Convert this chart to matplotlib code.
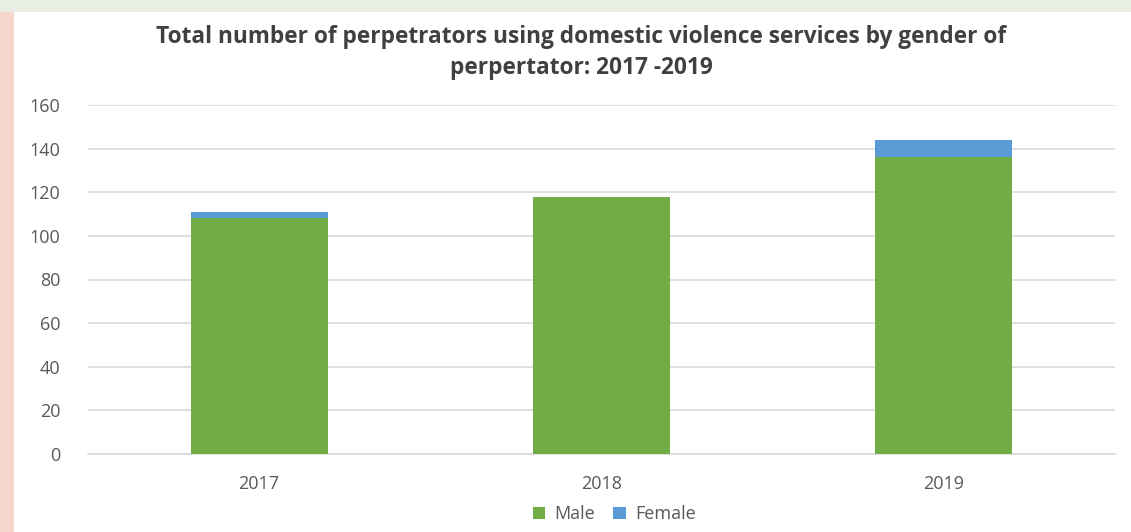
import matplotlib.pyplot as plt
from matplotlib.patches import Rectangle, Patch
import numpy as np

years = ["2017", "2018", "2019"]
male = [108, 118, 136]
female = [3, 0, 8]

GREEN = "#70AD47"
BLUE = "#5B9BD5"
GRID = "#D9D9D9"
TXT = "#595959"

plt.rcParams["font.family"] = ["Open Sans", "DejaVu Sans"]

fig = plt.figure(figsize=(11.31, 5.32), dpi=100)
fig.patch.set_facecolor("white")

# page background peeking out at the left and top edges
fig.patches.append(Rectangle((0, 0), 14 / 1131, 1, transform=fig.transFigure,
                             facecolor="#F7D7CD", edgecolor="none", zorder=0))
fig.patches.append(Rectangle((0, 1 - 12 / 532), 1, 12 / 532, transform=fig.transFigure,
                             facecolor="#E9EEE5", edgecolor="none", zorder=0))

ax = fig.add_axes([88 / 1131, 78 / 532, 1027 / 1131, 349 / 532])
x = np.arange(len(years))
ax.bar(x, male, width=0.4, color=GREEN, label="Male", zorder=3)
ax.bar(x, female, width=0.4, bottom=male, color=BLUE, label="Female", zorder=3)

ax.set_xlim(-0.5, 2.5)
ax.set_ylim(0, 160)
ax.set_yticks(range(0, 161, 20))
ax.set_xticks(x)
ax.set_xticklabels(years)
ax.yaxis.grid(True, color=GRID, linewidth=1.2, zorder=0)
ax.set_axisbelow(True)
for s in ["top", "right", "left"]:
    ax.spines[s].set_visible(False)
ax.spines["bottom"].set_color(GRID)
ax.spines["bottom"].set_linewidth(1.2)
ax.tick_params(axis="both", length=0, labelsize=13, colors=TXT)
ax.tick_params(axis="y", pad=20)
ax.tick_params(axis="x", pad=15)

fig.text(0.514, 0.902, "Total number of perpetrators using domestic violence services by gender of\nperpertator: 2017 -2019",
         ha="center", va="center", fontsize=16.3, fontweight="bold", color="#404040", linespacing=1.4)

handles = [Patch(facecolor=GREEN, label="Male"), Patch(facecolor=BLUE, label="Female")]
fig.legend(handles=handles, loc="center", bbox_to_anchor=(0.543, 0.033), ncol=2, frameon=False,
           fontsize=13, labelcolor=TXT, handlelength=0.7, handleheight=0.7, handletextpad=0.5,
           columnspacing=1.0)

fig.savefig("out.png", dpi=100, facecolor=fig.get_facecolor())
